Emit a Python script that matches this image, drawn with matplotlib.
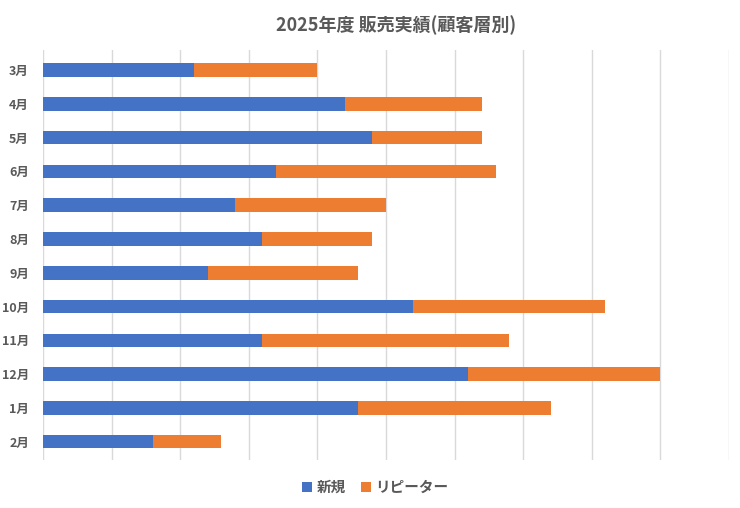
import matplotlib.pyplot as plt
import numpy as np

plt.rcParams['font.family'] = ['Noto Sans CJK JP', 'DejaVu Sans']

months = ["3月", "4月", "5月", "6月", "7月", "8月", "9月", "10月", "11月", "12月", "1月", "2月"]
new_cust = [220, 440, 480, 340, 280, 320, 240, 540, 320, 620, 460, 160]
repeat_cust = [180, 200, 160, 320, 220, 160, 220, 280, 360, 280, 280, 100]

blue = "#4472c4"
orange = "#ed7d31"
grey = "#595959"

fig = plt.figure(figsize=(7.4, 5.08), dpi=100)
ax = fig.add_axes([0.058, 0.094, 0.927, 0.808])

y = np.arange(len(months))
ax.barh(y, new_cust, height=0.4, color=blue, label="新規", zorder=3)
ax.barh(y, repeat_cust, left=new_cust, height=0.4, color=orange, label="リピーター", zorder=3)

ax.set_xlim(0, 1000)
ax.set_xticks(np.arange(0, 1001, 100))
ax.set_xticklabels([])
ax.set_ylim(len(months) - 0.45, -0.6)
ax.set_yticks(y)
ax.set_yticklabels(months, fontsize=9, fontweight="bold", color=grey)
ax.tick_params(length=0, pad=10)
ax.grid(axis="x", color="#d9d9d9", linewidth=1, zorder=0)
for s in ax.spines.values():
    s.set_visible(False)

fig.suptitle("2025年度 販売実績(顧客層別)", x=0.535, y=0.97, fontsize=13, fontweight="bold", color=grey)
fig.legend(loc="lower center", bbox_to_anchor=(0.507, 0.0), ncol=2, frameon=False,
           prop={"size": 10.5, "weight": "bold"}, labelcolor=grey,
           handlelength=0.7, handleheight=0.7, handletextpad=0.3, columnspacing=1.0)

fig.savefig("out.png", dpi=100)
